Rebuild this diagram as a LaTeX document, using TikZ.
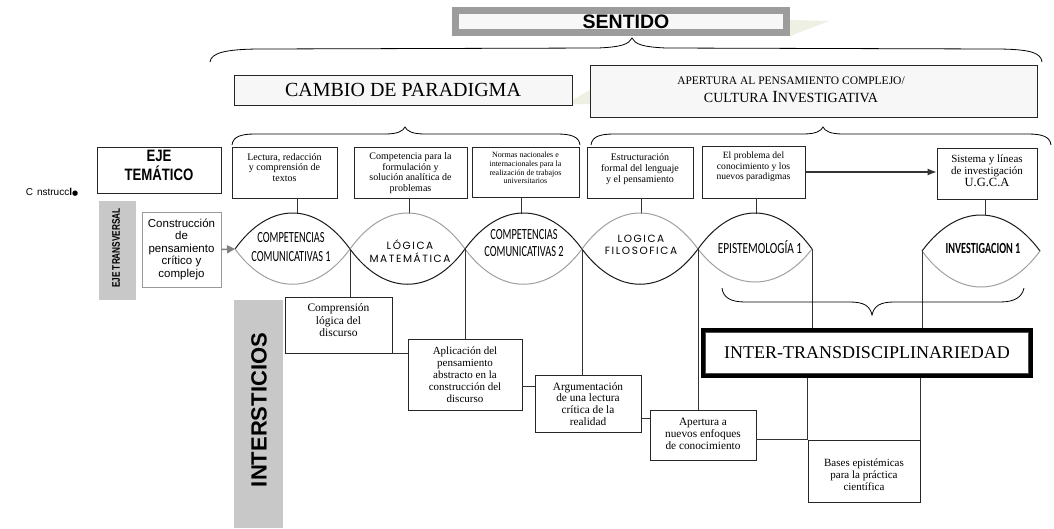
\documentclass[tikz,border=0pt]{standalone}
\usepackage{fontspec}
\usepackage{graphicx}
\setmainfont{Liberation Serif}
\setsansfont{Liberation Sans}
\newfontfamily\calfont{Carlito}
\newfontfamily\gothfont[LetterSpace=15]{Poppins}
\newfontfamily\dejafont{DejaVu Sans}
\usetikzlibrary{arrows.meta}
\definecolor{lensgray}{HTML}{A0A0A0}
\definecolor{panelgray}{HTML}{C8C8C8}
\definecolor{sentgray}{HTML}{9C9C9C}
\definecolor{paper}{HTML}{F7F7F7}
\definecolor{faint}{HTML}{EDF0E2}
\definecolor{consgray}{HTML}{999999}
\newcommand{\bt}[4]{\raisebox{#1}[\height][\depth]{\fontsize{#2}{#3}\selectfont\begin{tabular}{@{}c@{}}#4\end{tabular}}}
\newcommand{\lt}[4]{\scalebox{#1}[1]{\fontsize{#2}{#3}\selectfont\begin{tabular}{@{}c@{}}#4\end{tabular}}}
\begin{document}
\begin{tikzpicture}[x=1pt,y=-1pt,
  box/.style={draw=black!85, line width=0.9pt, fill=white, inner sep=0pt, rectangle},
  conn/.style={draw=black!80, line width=0.9pt},
  lensdark/.style={draw=black!90, line width=1pt},
  lenslight/.style={draw=lensgray, line width=1pt},
  brace/.style={draw=black, line width=0.8pt},
  txt/.style={inner sep=0pt},
  panel/.style={fill=panelgray, inner sep=0pt},
]
\path[use as bounding box, fill=white] (0,0) rectangle (1054,528);

% faint decorative wedges
\fill[faint] (790,20) -- (829,21) -- (790,36) -- cycle;
\fill[faint] (566,104) -- (593,88) -- (593,104) -- cycle;

% SENTIDO
\node[draw=sentgray, line width=7pt, fill=paper, minimum width=331, minimum height=22, inner sep=0pt,
      font=\sffamily\bfseries\fontsize{19.5}{20}\selectfont] (sentido) at (621,21.5) {\hspace*{10pt}SENTIDO};

% big brace
\draw[brace] (210,62) .. controls (211,53) and (225,49) .. (262,49) -- (598,48)
  .. controls (622,47) and (629,44) .. (632,38) .. controls (635,44) and (642,47) .. (666,48)
  -- (995,49) .. controls (1031,49) and (1041,53) .. (1042,62);

% headers
\node[box, fill=paper, minimum width=338, minimum height=30] (cambio) at (403,90)
  {\fontsize{20}{22}\selectfont CAMBIO DE PARADIGMA};
\node[box, fill=paper, minimum width=447, minimum height=52] (apert) at (813.5,91) {};
\node[txt] (aperttxt) at (791,90)
  {\fontsize{11.5}{18}\selectfont\begin{tabular}{@{}c@{}}APERTURA AL PENSAMIENTO COMPLEJO/\\
   {\fontsize{14}{17}\selectfont CULTURA {\fontsize{17}{17}\selectfont I}NVESTIGATIVA}\end{tabular}};

% row braces
\draw[brace] (232,145) .. controls (233,137) and (240,134) .. (255,134) -- (385,134)
  .. controls (398,134) and (403,131) .. (405,127) .. controls (407,131) and (412,134) .. (425,134)
  -- (557,134) .. controls (572,134) and (579,137) .. (580,145);
\draw[brace] (591,145) .. controls (592,137) and (599,134) .. (614,134) -- (803,134)
  .. controls (816,134) and (821,131) .. (823,127) .. controls (825,131) and (830,134) .. (843,134)
  -- (1028,134) .. controls (1043,134) and (1050,137) .. (1051,145);

% left column
\node[txt, font=\sffamily\fontsize{10}{10}\selectfont] (cons0) at (52,192)
  {C\hspace{4pt}nstrucc\textbf{l}{\dejafont\fontsize{7}{7}\selectfont ●}};
\node[box, line width=1pt, minimum width=124, minimum height=46] (ejetem) at (159,170)
  {\raisebox{2pt}[\height][\depth]{\scalebox{0.8}[1]{\sffamily\bfseries\fontsize{16.5}{16}\selectfont\begin{tabular}{@{}c@{}}EJE\\TEMÁTICO\end{tabular}}}};
\node[panel, minimum width=37, minimum height=99] (ejetrans) at (117.5,250.5) {};
\node[txt, rotate=90] (ejetranstxt) at (116,248)
  {\scalebox{0.75}[1]{\sffamily\bfseries\fontsize{11}{11}\selectfont EJE TRANSVERSAL}};
\node[box, draw=consgray, line width=1pt, minimum width=79, minimum height=75] (cons) at (181.5,249.5)
  {\sffamily\bt{0pt}{11.5}{12.5}{Construcción\\de\\pensamiento\\crítico y\\complejo}};
\node[panel, minimum width=49, minimum height=228] (inter0) at (258.5,414) {};
\node[txt, rotate=90] (intertxt) at (259,410)
  {\sffamily\bfseries\fontsize{22}{22}\selectfont INTERSTICIOS};

% top row boxes
\node[box, minimum width=105, minimum height=51] (l1) at (284.5,172.5)
  {\bt{4pt}{10}{10.5}{Lectura, redacción\\y comprensión de\\textos}};
\node[box, minimum width=113, minimum height=51] (l2) at (410.5,172.5)
  {\bt{-1pt}{10}{10.6}{Competencia para la\\formulación y\\solución analítica de\\problemas}};
\node[box, minimum width=107, minimum height=50] (l3) at (525.5,172)
  {\bt{3pt}{8}{8.7}{Normas nacionales e\\internacionales para la\\realización de trabajos\\universitarios}};
\node[box, minimum width=106, minimum height=51] (l4) at (640,172.5)
  {\bt{3.5pt}{10}{11}{Estructuración\\formal del lenguaje\\y el pensamiento}};
\node[box, minimum width=103, minimum height=52] (l5) at (753.5,172)
  {\bt{5pt}{9.6}{10.6}{El problema del\\conocimiento y los\\nuevos paradigmas}};
\node[box, minimum width=100, minimum height=51] (l6) at (987,173.5)
  {\bt{1.5pt}{11}{12}{Sistema y líneas\\de investigación\\{\fontsize{12.5}{12}\selectfont U.G.C.A}}};
\draw[conn, line width=1.2pt, -{Latex[length=9pt,width=7pt]}] (l5.east) -- (l5.east -| l6.west);

% lens tips and tops
\coordinate (t0) at (235,249);
\coordinate (t1) at (350,249);
\coordinate (t2) at (465,249);
\coordinate (t3) at (582,249);
\coordinate (t4) at (698,249);
\coordinate (t5) at (812,249);
\coordinate (i0) at (922,251);
\coordinate (i1) at (1040,251);
\coordinate (c1) at (297,213.5);
\coordinate (c2) at (409,213.5);
\coordinate (c3) at (521,213.5);
\coordinate (c4) at (641,213.5);
\coordinate (c5) at (756,213.5);
\coordinate (c6) at (985,215);

\draw[conn] (l1.south -| c1) -- (c1);
\draw[conn] (l2.south -| c2) -- (c2);
\draw[conn] (l3.south -| c3) -- (c3);
\draw[conn] (l4.south -| c4) -- (c4);
\draw[conn] (l5.south -| c5) -- (c5);
\draw[conn] (l6.south -| c6) -- (c6);

% lenses
\draw[lensdark]  (t0) .. controls +(34.5,-48) and +(-34.5,-48) .. (t1);
\draw[lenslight] (t0) .. controls +(34.5,47) and +(-34.5,47) .. (t1);
\draw[lenslight] (t1) .. controls +(34.5,-48) and +(-34.5,-48) .. (t2);
\draw[lensdark]  (t1) .. controls +(34.5,47) and +(-34.5,47) .. (t2);
\draw[lensdark]  (t2) .. controls +(35,-48) and +(-35,-48) .. (t3);
\draw[lenslight] (t2) .. controls +(35,47) and +(-35,47) .. (t3);
\draw[lenslight] (t3) .. controls +(34.8,-48) and +(-34.8,-48) .. (t4);
\draw[lensdark]  (t3) .. controls +(34.8,47) and +(-34.8,47) .. (t4);
\draw[lensdark]  (t4) .. controls +(34.2,-48) and +(-34.2,-48) .. (t5);
\draw[lenslight] (t4) .. controls +(34.2,44) and +(-34.2,44) .. (t5);
\draw[lensdark]  (i0) .. controls +(35.4,-48) and +(-35.4,-48) .. (i1);
\draw[lenslight] (i0) .. controls +(35.4,48) and +(-35.4,48) .. (i1);

\node[txt] (cc1) at (291,248) {\calfont\lt{0.67}{15.5}{19}{COMPETENCIAS\\COMUNICATIVAS 1}};
\node[txt] (lm) at (410,253) {\gothfont\lt{1}{10.5}{11.5}{LÓGICA\\MATEMÁTICA}};
\node[txt] (cc2) at (524,245) {\calfont\lt{0.67}{15.5}{17}{COMPETENCIAS\\COMUNICATIVAS 2}};
\node[txt] (lf) at (641,246) {\gothfont\lt{1}{10.5}{11.5}{LOGICA\\FILOSOFICA}};
\node[txt] (ep) at (760,250) {\calfont\lt{0.73}{15.5}{17}{EPISTEMOLOGÍA 1}};
\node[txt] (inv) at (983,250) {\calfont\bfseries\lt{0.66}{15.5}{17}{INVESTIGACION 1}};

% construction arrow
\draw[draw=consgray, line width=1.6pt, -{Triangle[length=8pt,width=8pt]}, color=gray] (cons.east) -- (t0);

% lower boxes
\node[box, minimum width=107, minimum height=56] (comp) at (338.5,325)
  {\bt{3.5pt}{11.5}{12.5}{Comprensión\\lógica del\\discurso}};
\node[box, minimum width=114, minimum height=71] (apl) at (465,374.5)
  {\bt{-1.5pt}{11}{12}{Aplicación del\\pensamiento\\abstracto en la\\construcción del\\discurso}};
\node[box, minimum width=106, minimum height=57] (arg) at (588,403.5)
  {\bt{-2pt}{11.3}{11.7}{Argumentación\\de una lectura\\crítica de la\\realidad}};
\node[box, minimum width=106, minimum height=50] (ape) at (703,435)
  {\bt{0pt}{11.3}{11.7}{Apertura a\\nuevos enfoques\\de conocimiento}};
\node[box, minimum width=112, minimum height=62] (bases) at (864,471)
  {\bt{-5pt}{11}{12}{Bases epistémicas\\para la práctica\\científica}};

% INTER-TRANSDISCIPLINARIEDAD
\node[draw=black, line width=5pt, fill=white, minimum width=327, minimum height=45, inner sep=0pt] (inter) at (867,353)
  {\fontsize{18}{18}\selectfont INTER-TRANSDISCIPLINARIEDAD};
\draw[black!70, line width=0.8pt] ([shift={(4.5,4.5)}]inter.north west) rectangle ([shift={(-4.5,-4.5)}]inter.south east);

% lower connectors
\draw[conn] (t1) -- (comp.north -| t1);
\draw[conn] (t2) -- (apl.north -| t2);
\draw[conn] (t3) -- (arg.north -| t3);
\draw[conn] (t4) -- (ape.north -| t4);
\draw[conn] (t5) -- (inter.north -| t5);
\draw[conn] (i0) -- (inter.north -| i0);
\draw[conn] (inter.south -| bases.north west) -- (bases.north west);
\draw[conn] (inter.south -| bases.north east) -- (bases.north east);
\draw[conn] (comp.south east) -- (apl.west |- comp.south east);
\coordinate (h2) at (0,386);
\coordinate (h3) at (0,418);
\draw[conn] (apl.east |- h2) -- (arg.west |- h2);
\draw[conn] (arg.east |- h3) -- (ape.west |- h3);
\draw[conn] (ape.east |- bases.north west) -- (bases.north west);

% bottom brace
\draw[brace] (722,288) .. controls (723,297) and (730,302) .. (745,302) -- (850,302)
  .. controls (864,302) and (870,306) .. (872,315) .. controls (874,306) and (880,302) .. (894,302)
  -- (1000,302) .. controls (1015,302) and (1022,297) .. (1024,288);
\end{tikzpicture}
\end{document}
